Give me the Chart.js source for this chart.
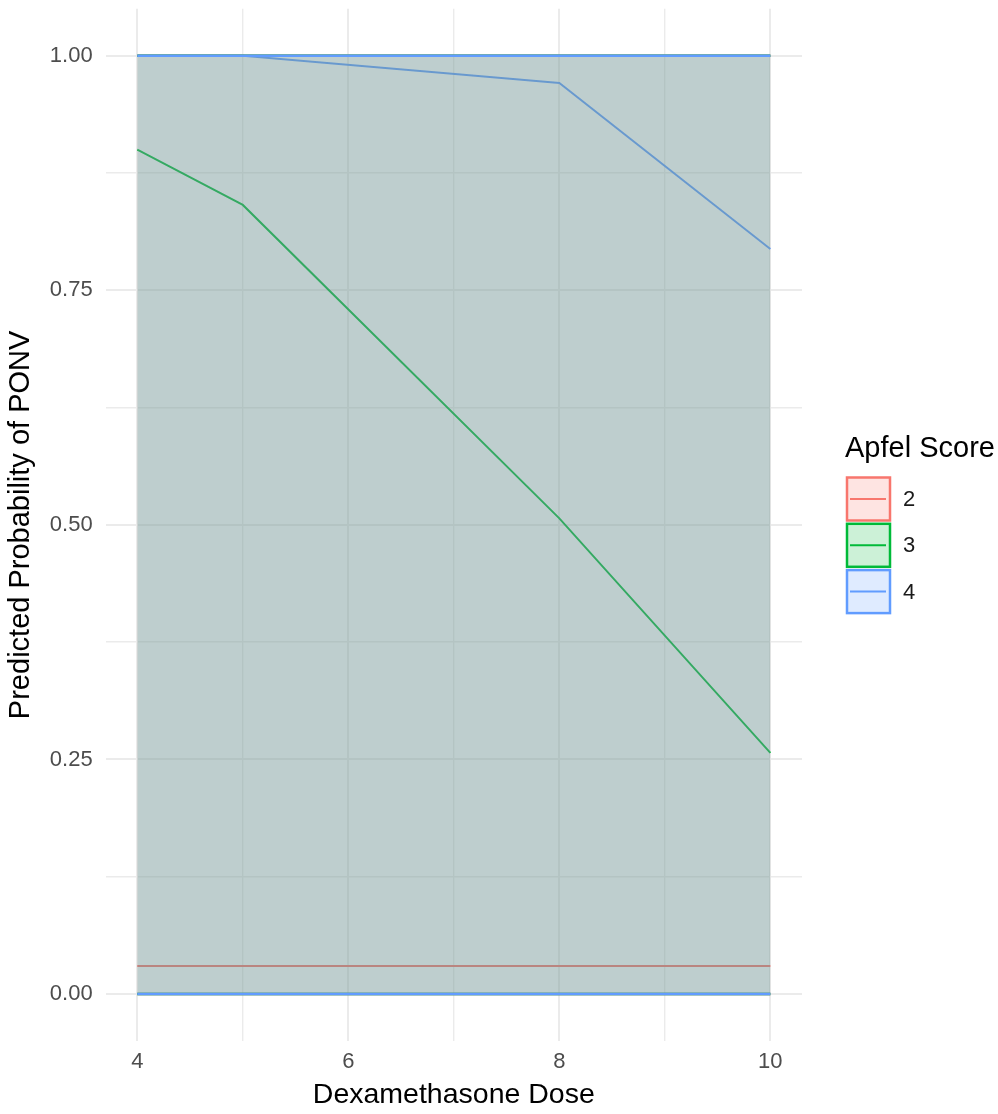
<!DOCTYPE html>
<html>
<head>
<meta charset="utf-8">
<script src="https://cdn.jsdelivr.net/npm/chart.js@4.4.1/dist/chart.umd.min.js"></script>
<style>
  html, body { margin: 0; padding: 0; background: #fff; }
  #wrap { width: 998px; height: 1114px; position: relative; }
</style>
</head>
<body>
<div id="wrap"><canvas id="ponv_chart"></canvas></div>
<script>
// data
const doses = [4, 5, 8, 10];
const apfelScores = ["2", "3", "4"];
const prob2 = [0.03, 0.03, 0.03, 0.03];
const prob3 = [0.90, 0.841, 0.507, 0.257];
const prob4 = [1.00, 1.00, 0.971, 0.794];
const lower2 = [0, 0, 0, 0];
const upper2 = [1, 1, 1, 1];
const lower3 = [0, 0, 0, 0];
const upper3 = [1, 1, 1, 1];
const lower4 = [0, 0, 0, 0];
const upper4 = [1, 1, 1, 1];

// ticks
const xMajorTicks = [4, 6, 8, 10];
const xMinorTicks = [5, 7, 9];
const yMajorTicks = [0, 0.25, 0.5, 0.75, 1];
const yMinorTicks = [0.125, 0.375, 0.625, 0.875];

const groupColors = ["#F8766D", "#00BA38", "#619CFF"];
const ribbonAlpha = [0.22, 0.16, 0.18];
const FONT = "'Liberation Sans', Arial, Helvetica, sans-serif";

function pts(ys) {
    return doses.map((x, i) => ({ x: x, y: ys[i] }));
}

function withAlpha(hex, a) {
    const r = parseInt(hex.slice(1, 3), 16);
    const g = parseInt(hex.slice(3, 5), 16);
    const b = parseInt(hex.slice(5, 7), 16);
    return `rgba(${r}, ${g}, ${b}, ${a})`;
}

const probs = [prob2, prob3, prob4];
const lowers = [lower2, lower3, lower4];
const uppers = [upper2, upper3, upper4];

const datasets = [];

// lines first (drawn underneath the ribbons, like the original)
probs.forEach((p, i) => {
    datasets.push({
        label: apfelScores[i],
        data: pts(p),
        borderColor: groupColors[i],
        borderWidth: 2,
        pointRadius: 0,
        fill: false,
        order: 20,
    });
});

// ribbons: upper bound fills down to lower bound
apfelScores.forEach((s, i) => {
    const upperIndex = datasets.length;
    datasets.push({
        label: s + " upper",
        data: pts(uppers[i]),
        borderColor: groupColors[i],
        borderWidth: 2.5,
        backgroundColor: withAlpha(groupColors[i], ribbonAlpha[i]),
        pointRadius: 0,
        fill: upperIndex + 1,
        order: 10 - i * 2,
    });
    datasets.push({
        label: s + " lower",
        data: pts(lowers[i]),
        borderColor: groupColors[i],
        borderWidth: 2.5,
        pointRadius: 0,
        fill: false,
        order: 9 - i * 2,
    });
});

// legend drawn by hand, ggplot style
const legendPlugin = {
    id: "apfelLegend",
    afterDraw(chart) {
        const ctx = chart.ctx;
        ctx.save();
        ctx.fillStyle = "#000";
        ctx.font = `29px ${FONT}`;
        ctx.textBaseline = "alphabetic";
        ctx.textAlign = "left";
        ctx.fillText("Apfel Score", 845, 457);

        const keyX = 847;
        const keySize = 43;
        const keyStep = 46.3;
        apfelScores.forEach((s, i) => {
            const top = 477.5 + i * keyStep;
            ctx.fillStyle = withAlpha(groupColors[i], 0.2);
            ctx.fillRect(keyX, top, keySize, keySize);
            ctx.strokeStyle = groupColors[i];
            ctx.lineWidth = 2.5;
            ctx.strokeRect(keyX, top, keySize, keySize);
            ctx.lineWidth = 2;
            ctx.beginPath();
            ctx.moveTo(keyX + 3, top + keySize / 2);
            ctx.lineTo(keyX + keySize - 4, top + keySize / 2);
            ctx.stroke();

            ctx.fillStyle = "#1a1a1a";
            ctx.font = `22px ${FONT}`;
            ctx.textBaseline = "middle";
            ctx.fillText(s, 903, top + keySize / 2 + 1);
        });
        ctx.restore();
    },
};

const ctx = document.querySelector("#ponv_chart").getContext("2d");

const ponvChart = new Chart(ctx, {
    type: "line",
    data: { datasets: datasets },
    options: {
        responsive: true,
        maintainAspectRatio: false,
        animation: false,
        layout: {
            padding: { left: 0, right: 196, top: 8.8, bottom: 0 },
        },
        plugins: {
            legend: { display: false },
            tooltip: { enabled: false },
        },
        scales: {
            x: {
                type: "linear",
                min: 3.7,
                max: 10.3,
                afterBuildTicks: (scale) => {
                    scale.ticks = xMajorTicks.concat(xMinorTicks)
                        .sort((a, b) => a - b)
                        .map((v) => ({ value: v }));
                },
                afterFit: (scale) => {
                    scale.height = 73;
                    scale.paddingLeft = 0;
                    scale.paddingRight = 0;
                },
                grid: {
                    drawTicks: false,
                    color: "#ebebeb",
                    lineWidth: (c) => (xMajorTicks.includes(c.tick.value) ? 2 : 1.4),
                },
                border: { display: false },
                ticks: {
                    autoSkip: false,
                    maxRotation: 0,
                    padding: 8,
                    color: "#4d4d4d",
                    font: { family: FONT, size: 22 },
                    callback: (v) => (xMajorTicks.includes(v) ? String(v) : ""),
                },
                title: {
                    display: true,
                    text: "Dexamethasone Dose",
                    color: "#000",
                    font: { family: FONT, size: 28.5 },
                    padding: { top: 0, bottom: 2 },
                },
            },
            y: {
                type: "linear",
                min: -0.05,
                max: 1.05,
                afterBuildTicks: (scale) => {
                    scale.ticks = yMajorTicks.concat(yMinorTicks)
                        .sort((a, b) => a - b)
                        .map((v) => ({ value: v }));
                },
                afterFit: (scale) => {
                    scale.width = 105.65;
                    scale.paddingTop = 0;
                    scale.paddingBottom = 0;
                },
                grid: {
                    drawTicks: false,
                    color: "#ebebeb",
                    lineWidth: (c) => (yMajorTicks.includes(c.tick.value) ? 2 : 1.4),
                },
                border: { display: false },
                ticks: {
                    autoSkip: false,
                    padding: 13,
                    color: "#4d4d4d",
                    font: { family: FONT, size: 22 },
                    callback: (v) => (yMajorTicks.includes(v) ? v.toFixed(2) : ""),
                },
                title: {
                    display: true,
                    text: "Predicted Probability of PONV",
                    color: "#000",
                    font: { family: FONT, size: 29 },
                    padding: { top: 4, bottom: 0 },
                },
            },
        },
    },
    plugins: [legendPlugin],
});
</script>
</body>
</html>
